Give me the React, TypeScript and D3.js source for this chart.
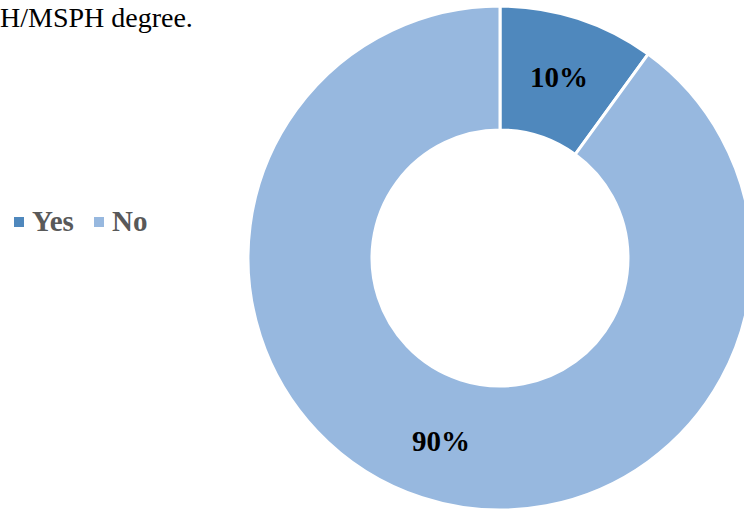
import * as d3 from "d3";
import { useEffect, useRef } from "react";

const categories = ["Yes", "No"];
const values = [10, 90];
const labels = ["10%", "90%"];
const colors = ["#4F88BD", "#97B8DF"];

const width = 744;
const height = 510;

type Slice = { name: string; value: number; label: string };

export default function App() {
  const ref = useRef<SVGSVGElement>(null);

  useEffect(() => {
    if (!ref.current) return;
    const svg = d3.select(ref.current);
    svg.selectAll("*").remove();

    const data: Slice[] = categories.map((c, i) => ({
      name: c,
      value: values[i],
      label: labels[i],
    }));

    const color = d3.scaleOrdinal<string, string>().domain(categories).range(colors);
    const serif = "'Liberation Serif', 'Times New Roman', serif";

    // title fragment, cut off at the left edge
    svg
      .append("text")
      .attr("x", 0)
      .attr("y", 27)
      .attr("font-family", serif)
      .attr("font-size", 28)
      .attr("fill", "#000")
      .text("H/MSPH degree.");

    const cx = 500;
    const cy = 258;
    const outer = 252;
    const inner = 128;

    const pie = d3
      .pie<Slice>()
      .value((d) => d.value)
      .sort(null);

    const arc = d3.arc<d3.PieArcDatum<Slice>>().innerRadius(inner).outerRadius(outer);
    const labelArc = d3.arc<d3.PieArcDatum<Slice>>().innerRadius(191).outerRadius(191);

    const g = svg.append("g").attr("transform", `translate(${cx},${cy})`);
    const arcs = pie(data);

    g.selectAll("path")
      .data(arcs)
      .enter()
      .append("path")
      .attr("d", arc)
      .attr("fill", (d) => color(d.data.name))
      .attr("stroke", "#fff")
      .attr("stroke-width", 3);

    g.selectAll("text")
      .data(arcs)
      .enter()
      .append("text")
      .attr("transform", (d) => `translate(${labelArc.centroid(d)})`)
      .attr("text-anchor", "middle")
      .attr("dy", "0.38em")
      .attr("font-family", serif)
      .attr("font-weight", "bold")
      .attr("font-size", 29)
      .attr("fill", "#000")
      .text((d) => d.data.label);

    // legend
    const legend = svg.append("g").attr("transform", "translate(14,222)");
    const offsets = [0, 80];
    categories.forEach((c, i) => {
      const item = legend.append("g").attr("transform", `translate(${offsets[i]},0)`);
      item
        .append("rect")
        .attr("x", 0)
        .attr("y", -5)
        .attr("width", 10)
        .attr("height", 10)
        .attr("fill", color(c));
      item
        .append("text")
        .attr("x", 18)
        .attr("y", 9)
        .attr("font-family", serif)
        .attr("font-weight", "bold")
        .attr("font-size", 29)
        .attr("fill", "#595959")
        .text(c);
    });
  }, []);

  return (
    <svg
      ref={ref}
      width={width}
      height={height}
      style={{ position: "absolute", left: 0, top: 0, background: "#fff" }}
    />
  );
}
